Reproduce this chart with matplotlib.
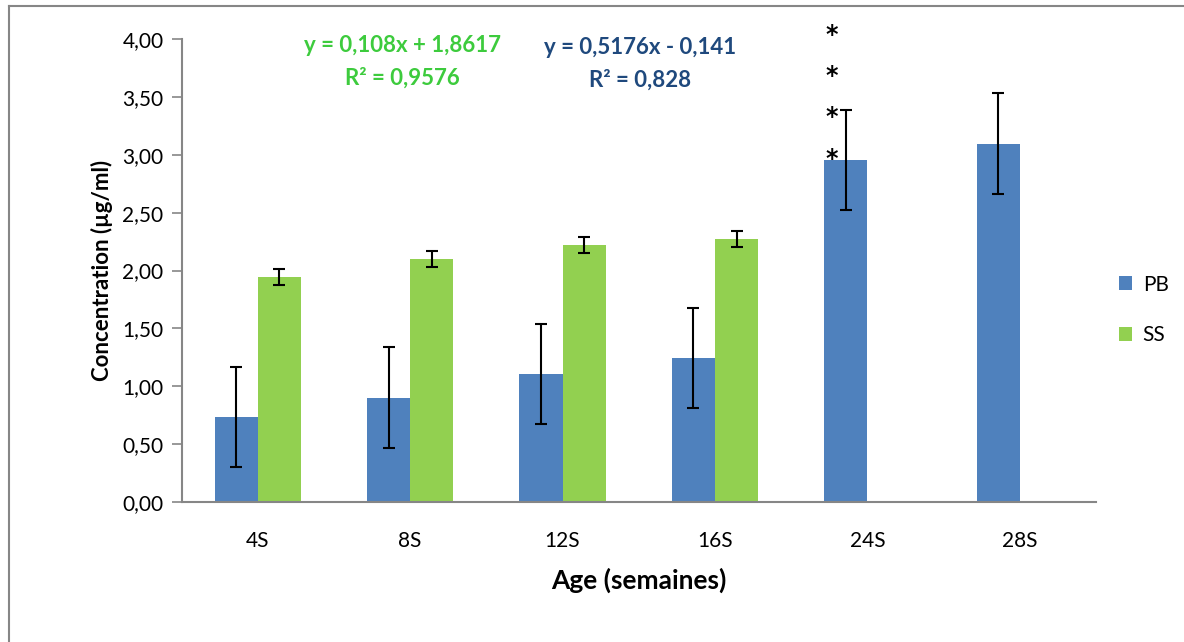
import numpy as np
import matplotlib.pyplot as plt
from matplotlib.lines import Line2D

plt.rcParams['font.family'] = ['Lato', 'DejaVu Sans']

ages = ["4S", "8S", "12S", "16S", "24S", "28S"]
pb = [0.737, 0.90, 1.105, 1.245, 2.955, 3.095]
pb_err = [0.433, 0.435, 0.435, 0.435, 0.435, 0.435]
ss = [1.947, 2.10, 2.22, 2.27, np.nan, np.nan]
ss_err = [0.07, 0.07, 0.07, 0.07, np.nan, np.nan]
stars_y = [4.03, 3.68, 3.33, 2.96]

BLUE = "#4F81BD"; GREEN = "#92D050"; GRAY = "#868686"
EQ_GREEN = "#3DCB3D"; EQ_NAVY = "#1F497D"

fig = plt.figure(figsize=(11.84, 6.42), dpi=100)
ax = fig.add_axes([0.1533, 0.218, 0.7724, 0.7213])

x = np.arange(len(ages))
w = 0.283
ekw = dict(ecolor="black", elinewidth=1.5, capsize=4.5, capthick=1.5)
ax.bar(x - w/2, pb, w, color=BLUE, yerr=pb_err, error_kw=ekw, label="PB")
ax.bar(x + w/2, ss, w, color=GREEN, yerr=ss_err, error_kw=ekw, label="SS")

for sy in stars_y:
    ax.text(4 - w/2 - 0.09, sy, "*", ha="center", va="center", fontsize=17,
            fontweight="bold", family="DejaVu Sans", clip_on=False)

ax.set_xlim(-0.5, 5.5)
ax.set_ylim(0, 4)
ax.set_yticks(np.arange(0, 4.01, 0.5))
ax.set_yticklabels([("%.2f" % v).replace(".", ",") for v in np.arange(0, 4.01, 0.5)])
ax.set_xticks(x)
ax.set_xticklabels(ages)
ax.tick_params(axis="y", direction="out", length=7, color=GRAY, width=1.2,
               labelsize=15, pad=6)
ax.tick_params(axis="x", length=0, labelsize=15, pad=21)
for s in ("top", "right"):
    ax.spines[s].set_visible(False)
for s in ("left", "bottom"):
    ax.spines[s].set_color(GRAY); ax.spines[s].set_linewidth(1.5)

ax.set_ylabel("Concentration (µg/ml)", fontsize=16, fontweight="bold", labelpad=7)
ax.set_xlabel("Age (semaines)", fontsize=19, fontweight="bold", labelpad=12)

fig.text(402/1184, 1 - 46/642, "y = 0,108x + 1,8617", color=EQ_GREEN, fontsize=16,
         fontweight="bold", ha="center", va="center")
fig.text(402/1184, 1 - 78/642, "R² = 0,9576", color=EQ_GREEN, fontsize=16,
         fontweight="bold", ha="center", va="center")
fig.text(640/1184, 1 - 48/642, "y = 0,5176x - 0,141", color=EQ_NAVY, fontsize=16,
         fontweight="bold", ha="center", va="center")
fig.text(640/1184, 1 - 80/642, "R² = 0,828", color=EQ_NAVY, fontsize=16,
         fontweight="bold", ha="center", va="center")

leg = fig.legend(loc="upper left", bbox_to_anchor=(1100/1184, 1 - 256/642),
                 frameon=False, fontsize=15, handlelength=0.65, handleheight=0.65,
                 labelspacing=1.45, handletextpad=0.5)

# cadre du graphique (bord gauche et haut visibles)
fig.add_artist(Line2D([8.5/1184, 8.5/1184], [0, 1 - 6/642], color=GRAY, lw=1.5))
fig.add_artist(Line2D([8.5/1184, 1], [1 - 6/642, 1 - 6/642], color=GRAY, lw=1.5))

fig.savefig("out.png", dpi=100)
